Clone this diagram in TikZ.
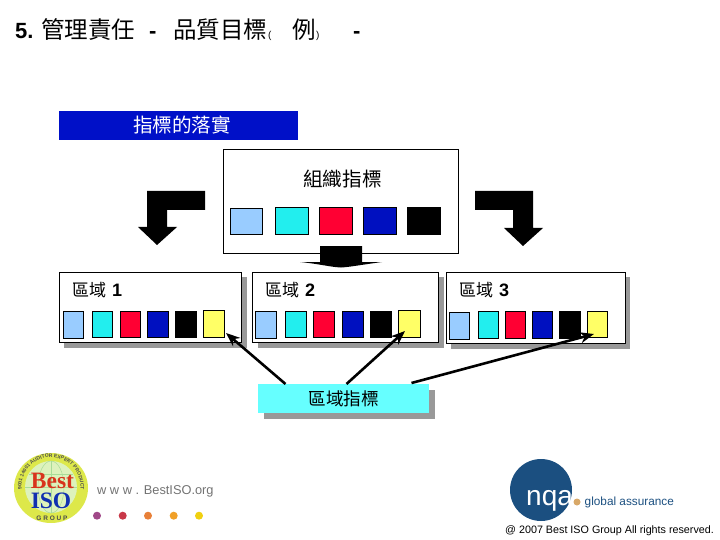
\documentclass[tikz,border=0pt]{standalone}
\usepackage{fontspec}
\setmainfont{Liberation Sans}
\newfontfamily\cjk{Noto Sans CJK TC}
\newfontfamily\serifb{Liberation Serif}
\usetikzlibrary{arrows.meta,decorations.text}
\definecolor{lblue}{HTML}{99CCFF}
\definecolor{lcyan}{HTML}{22EEEE}
\definecolor{lred}{HTML}{FF0033}
\definecolor{lnavy}{HTML}{0010C0}
\definecolor{lyell}{HTML}{FFFF66}
\definecolor{hdr}{HTML}{0010C8}
\definecolor{shd}{HTML}{999999}
\definecolor{nqa}{HTML}{1B4F80}
\definecolor{metricfill}{HTML}{66FFFF}
\definecolor{ringc}{HTML}{DDE84A}
\definecolor{innerc}{HTML}{DDF2BC}
\definecolor{gridc}{HTML}{A8DC98}
\definecolor{bestc}{HTML}{D8341C}
\definecolor{isoc}{HTML}{1030B0}
\definecolor{dota}{HTML}{A04888}
\definecolor{dotb}{HTML}{C83848}
\definecolor{dotc}{HTML}{E88038}
\definecolor{dotd}{HTML}{F0A028}
\definecolor{dote}{HTML}{F0D010}
\definecolor{tanc}{HTML}{D8A868}
\tikzset{
  x=1pt,y=-1pt,
  chip/.style={draw=black,line width=0.7pt},
  regionbox/.style={draw=black,fill=white,line width=0.8pt},
  blockarrow/.style={fill=black,draw=none},
  thin arrow/.style={draw=black,line width=2.6pt,-{Stealth[length=14pt,width=11pt]}},
  lbl/.style={inner sep=0pt,anchor=west,font=\cjk\fontsize{17}{17}\selectfont},
  biglbl/.style={inner sep=0pt,anchor=center,font=\cjk\fontsize{19.6}{19.6}\selectfont},
  titlecjk/.style={lbl,font=\cjk\fontsize{23.5}{23.5}\selectfont},
  titledash/.style={lbl,font=\bfseries\fontsize{22}{22}\selectfont},
  titleparen/.style={lbl,font=\fontsize{10}{10}\selectfont},
  dotmark/.style={circle,minimum size=8pt,inner sep=0pt,draw=none}
}
\newcommand{\regdigit}[1]{\hspace{2pt}{\fontspec{Liberation Sans}\bfseries\fontsize{18}{18}\selectfont #1}}
\begin{document}
\begin{tikzpicture}
\useasboundingbox (0,0) rectangle (720,540);
% title
\node[lbl,font=\bfseries\fontsize{22}{22}\selectfont] (t1) at (15,31) {5.};
\node[titlecjk] (t2) at (41,30) {管理責任};
\node[titledash] (t3) at (149,35) {-};
\node[titlecjk] (t4) at (173,30) {品質目標};
\node[titleparen] (t5) at (268,36) {(};
\node[titlecjk] (t6) at (292,30) {例};
\node[titleparen] (t7) at (316,36) {)};
\node[titledash] (t8) at (353,35) {-};
% header
\path[fill=hdr] (59,111) rectangle (298,140);
\node[biglbl,text=white] (hd) at (182,125.5) {指標的落實};
% org box
\draw[regionbox] (223,149.5) rectangle (458,253);
\node[biglbl] (org) at (342.5,179.5) {組織指標};
\draw[chip,fill=lblue] (230.5,208) rectangle (262.5,234);
\draw[chip,fill=lcyan] (275.5,207.5) rectangle (308,234);
\draw[chip,fill=lred] (319.5,207.5) rectangle (352.5,234);
\draw[chip,fill=lnavy] (363.5,207.5) rectangle (396.5,234);
\fill[black] (407,207) rectangle (441,235);
% block arrows
\fill[blockarrow] (205,191) -- (147,191) -- (147,227) -- (138,227) -- (157,245) -- (177,227) -- (167,227) -- (167,210) -- (205,210) -- cycle;
\fill[blockarrow] (475,191) -- (533,191) -- (533,228) -- (543,228) -- (523,246) -- (504,228) -- (513,228) -- (513,210) -- (475,210) -- cycle;
\fill[blockarrow] (320,246) -- (362,246) -- (362,262) -- (382,262) .. controls (360,265) and (350,267) .. (341,267.5) .. controls (330,267) and (320,264) .. (300,262) -- (320,262) -- cycle;
% regions
\fill[shd] (64,277) rectangle (247,347.5);
\draw[regionbox] (59,272.5) rectangle (241.5,342.5);
\fill[shd] (258,277) rectangle (444,347.5);
\draw[regionbox] (252.5,272.5) rectangle (438.7,342.5);
\fill[shd] (450.5,277) rectangle (630,349);
\draw[regionbox] (446.3,272.5) rectangle (625,343.5);
\node[lbl] (r1) at (72,290) {區域 \regdigit{1}};
\node[lbl] (r2) at (265,290) {區域 \regdigit{2}};
\node[lbl] (r3) at (459,290) {區域 \regdigit{3}};
% region 1 chips
\draw[chip,fill=lblue] (63.3,311.3) rectangle (83.5,338.3);
\draw[chip,fill=lcyan] (92.3,311.3) rectangle (112.5,337.3);
\draw[chip,fill=lred] (120.3,311.3) rectangle (140.5,337.3);
\draw[chip,fill=lnavy] (147.5,311.3) rectangle (168.5,337.3);
\fill[black] (175,311) rectangle (197,337.5);
\draw[chip,fill=lyell] (203.5,310.5) rectangle (224.5,337);
% region 2 chips
\draw[chip,fill=lblue] (255.5,311.3) rectangle (276.5,338.3);
\draw[chip,fill=lcyan] (285.5,311.3) rectangle (306.5,337.3);
\draw[chip,fill=lred] (313.5,311.3) rectangle (334.5,337.3);
\draw[chip,fill=lnavy] (342.5,311.3) rectangle (363.5,337.3);
\fill[black] (370,311) rectangle (392,338);
\draw[chip,fill=lyell] (398.5,310.5) rectangle (420.5,337.3);
% region 3 chips
\draw[chip,fill=lblue] (449.5,312.5) rectangle (469.5,339);
\draw[chip,fill=lcyan] (478.5,311.5) rectangle (498.5,338);
\draw[chip,fill=lred] (505.5,311.5) rectangle (525.5,338);
\draw[chip,fill=lnavy] (532.5,311.5) rectangle (552.5,338);
\fill[black] (559,311) rectangle (581,339);
\draw[chip,fill=lyell] (587.5,311.5) rectangle (607.5,337.3);
% metric box
\fill[shd] (264,390) rectangle (435,419);
\coordinate (a1) at (226,333);
\coordinate (a2) at (405,331);
\coordinate (a3) at (594,334);
\node[draw=none,fill=metricfill,minimum width=171pt,minimum height=29pt,inner sep=0pt,anchor=north west,font=\cjk\fontsize{17.6}{17.6}\selectfont] (metric) at (258,384) {區域指標};
\draw[thin arrow] (285.5,384) -- (a1);
\draw[thin arrow] (346.5,384) -- (a2);
\draw[thin arrow] (411.5,383) -- (a3);
% Best ISO logo
\fill[ringc] (51,488) ellipse [x radius=37pt,y radius=35pt];
\fill[innerc] (51,487) circle [radius=26pt];
\draw[gridc,line width=0.5pt] (51,487) ellipse [x radius=13pt,y radius=26pt];
\draw[gridc,line width=0.5pt] (51,461) -- (51,513);
\draw[gridc,line width=0.5pt] (25,487) -- (77,487);
\draw[gridc,line width=0.5pt] (29,474) -- (73,474);
\path[decorate,decoration={text along path,text={|\bfseries\fontsize{5}{5}\selectfont\color{black!70}|9001 14001 AUDITOR EXPERT PRODUCT},text align=center}]
  (27.1,504.3) arc[start angle=216,end angle=-36,radius=29.5pt];
\node[anchor=base,font=\serifb\bfseries\fontsize{23.5}{23.5}\selectfont,text=bestc,inner sep=0pt] (best) at (52.5,488) {Best};
\node[anchor=base,font=\serifb\bfseries\fontsize{23.5}{23.5}\selectfont,text=isoc,inner sep=0pt] (iso) at (51,508) {ISO};
\node[font=\bfseries\fontsize{6.5}{6.5}\selectfont,text=black!70,inner sep=0pt] (grp) at (52,518.5) {G R O U P};
% www
\node[lbl,font=\fontsize{12.8}{12.8}\selectfont,text=black!55] (www) at (97,491.5) {w w w . BestISO.org};
\node[dotmark,fill=dota] (d1) at (97,515.7) {};
\node[dotmark,fill=dotb] (d2) at (122.7,515.7) {};
\node[dotmark,fill=dotc] (d3) at (148,515.7) {};
\node[dotmark,fill=dotd] (d4) at (173.7,515.7) {};
\node[dotmark,fill=dote] (d5) at (199,515.7) {};
% nqa
\node[circle,minimum size=62pt,inner sep=0pt,fill=nqa] (nq) at (541,490) {};
\node[lbl,font=\fontsize{28}{28}\selectfont,text=white] (nqt) at (526,501) {nqa};
\node[circle,minimum size=7pt,inner sep=0pt,fill=tanc] (nd) at (577,502) {};
\node[lbl,font=\fontsize{11.8}{11.8}\selectfont,text=nqa] (glob) at (584.5,502) {global assurance};
\node[lbl,font=\fontsize{10.75}{10.75}\selectfont] (copy) at (505,531) {@ 2007 Best ISO Group All rights reserved.};
\end{tikzpicture}
\end{document}
